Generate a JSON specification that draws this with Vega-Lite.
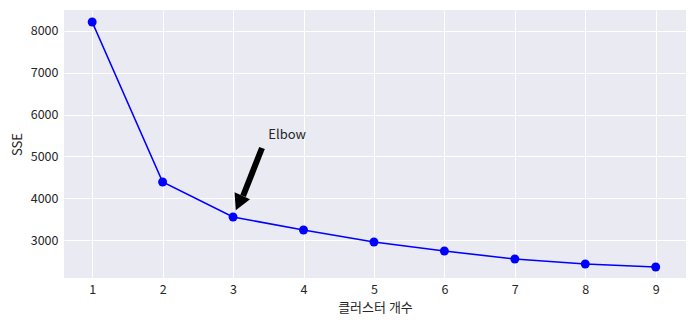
{
  "$schema": "https://vega.github.io/schema/vega-lite/v6.json",
  "width": 622,
  "height": 268,
  "autosize": {"type": "none"},
  "padding": {"left": 64, "top": 10, "right": 7, "bottom": 48},
  "background": "white",
  "config": {
    "view": {"fill": "#EAEAF2", "stroke": null},
    "font": "Noto Sans CJK KR",
    "axis": {
      "gridColor": "white",
      "gridWidth": 1,
      "gridOpacity": 1,
      "domain": false,
      "ticks": false,
      "labelFontSize": 12.5,
      "labelColor": "#262626",
      "titleFontSize": 13,
      "titleFontWeight": "normal",
      "titleColor": "#262626",
      "labelFont": "Noto Sans CJK KR",
      "titleFont": "Noto Sans CJK KR"
    }
  },
  "datasets": {
    "sse": [
      {"k": 1, "sse": 8215},
      {"k": 2, "sse": 4388},
      {"k": 3, "sse": 3550},
      {"k": 4, "sse": 3239},
      {"k": 5, "sse": 2952},
      {"k": 6, "sse": 2737},
      {"k": 7, "sse": 2545},
      {"k": 8, "sse": 2426},
      {"k": 9, "sse": 2354}
    ],
    "arrow": [
      {"x": 3.411, "y": 5201, "x2": 3.142, "y2": 4053, "hx": 3.085, "hy": 3885, "label": "Elbow", "tx": 3.5, "ty": 5500}
    ]
  },
  "layer": [
    {
      "data": {"name": "sse"},
      "mark": {"type": "line", "color": "#0000FF", "strokeWidth": 1.6, "point": {"filled": true, "size": 80, "color": "#0000FF", "opacity": 1}},
      "encoding": {
        "x": {
          "field": "k", "type": "quantitative",
          "scale": {"domain": [0.6, 9.43], "nice": false, "zero": false},
          "axis": {"values": [1, 2, 3, 4, 5, 6, 7, 8, 9], "format": "d", "title": "클러스터 개수", "labelPadding": 5, "titlePadding": 6}
        },
        "y": {
          "field": "sse", "type": "quantitative",
          "scale": {"domain": [2091, 8502], "nice": false, "zero": false},
          "axis": {"values": [3000, 4000, 5000, 6000, 7000, 8000], "format": "d", "title": "SSE", "labelPadding": 6, "titlePadding": 6}
        }
      }
    },
    {
      "data": {"name": "arrow"},
      "mark": {"type": "rule", "color": "black", "strokeWidth": 6},
      "encoding": {
        "x": {"field": "x", "type": "quantitative"},
        "y": {"field": "y", "type": "quantitative"},
        "x2": {"field": "x2"},
        "y2": {"field": "y2"}
      }
    },
    {
      "data": {"name": "arrow"},
      "mark": {"type": "point", "filled": true, "color": "black", "opacity": 1, "shape": "M0,-1L-1.06,1L1.06,1Z", "size": 256, "angle": 204},
      "encoding": {
        "x": {"field": "hx", "type": "quantitative"},
        "y": {"field": "hy", "type": "quantitative"}
      }
    },
    {
      "data": {"name": "arrow"},
      "mark": {"type": "text", "align": "left", "baseline": "middle", "fontSize": 13, "color": "#262626", "font": "Noto Sans CJK KR"},
      "encoding": {
        "x": {"field": "tx", "type": "quantitative"},
        "y": {"field": "ty", "type": "quantitative"},
        "text": {"field": "label"}
      }
    }
  ]
}
